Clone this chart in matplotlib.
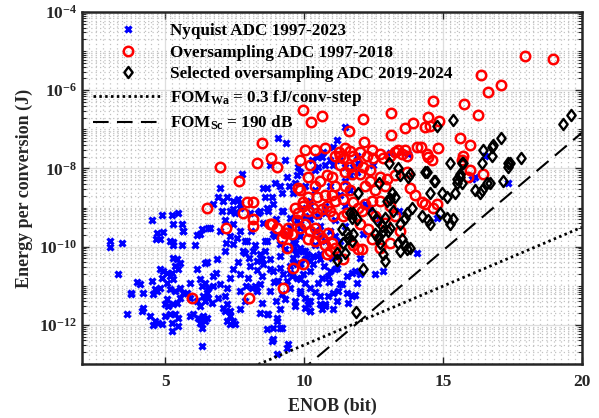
import numpy as np
import matplotlib
matplotlib.use("Agg")
import matplotlib.pyplot as plt
from matplotlib.path import Path
from matplotlib.ticker import FixedLocator, MultipleLocator, LogFormatterSciNotation, NullFormatter

plt.rcParams['font.family'] = ['Liberation Serif', 'DejaVu Serif']
plt.rcParams['font.weight'] = 'bold'
plt.rcParams['mathtext.fontset'] = 'custom'
plt.rcParams['mathtext.rm'] = 'Liberation Serif:bold'
plt.rcParams['mathtext.bf'] = 'Liberation Serif:bold'
plt.rcParams['mathtext.it'] = 'Liberation Serif:bold'
plt.rcParams['mathtext.default'] = 'regular'

# ---------------- data: (ENOB [bit], log10 of energy per conversion [J]) ----------------
nyquist_points = [
    (3.0,-9.85),(3.0,-10.02),(3.44,-9.9),(3.3,-10.7),(3.76,-11.2),(3.62,-11.72),(3.98,-10.9),(4.2,-11.58),(3.77,-11.18),
    (4.52,-9.31),(4.88,-9.2),(5.24,-9.2),(5.46,-9.13),(5.28,-9.41),(5.6,-9.41),(5.65,-9.6),
    (4.70,-9.64),(4.92,-9.62),(4.67,-9.8),(4.81,-9.8),(5.17,-9.85),(5.28,-9.87),(5.28,-9.97),(5.64,-9.59),(5.6,-9.97),
    (6.07,-9.97),(6.14,-9.69),(6.32,-9.54),(6.54,-9.51),(6.25,-9.67),(6.61,-9.51),
    (5.28,-10.28),(5.42,-10.31),(5.53,-10.41),(5.35,-10.49),(5.46,-10.56),(5.17,-10.74),(5.28,-10.82),(5.06,-10.92),
    (4.81,-10.56),(4.92,-10.62),(4.88,-10.79),(5.06,-10.67),(5.24,-10.67),
    (4.52,-10.87),(4.09,-10.95),(4.2,-11.18),(4.63,-11.08),(4.7,-11.13),(4.81,-11.05),(4.56,-11.2),
    (5.17,-11.08),(5.35,-11.13),(5.53,-11.05),(5.64,-11.18),(5.53,-11.31),(5.42,-11.44),(5.28,-11.46),(5.06,-11.33),(5.1,-11.51),(4.99,-11.46),
    (5.89,-10.92),(6.25,-10.82),(6.32,-11.0),(6.43,-10.92),(6.54,-11.05),(6.5,-11.18),(6.36,-11.26),(6.14,-11.38),(6.25,-11.51),
    (6.43,-11.38),(6.54,-11.31),(6.68,-11.44),(6.72,-11.0),
    (6.14,-10.56),(6.43,-10.41),(6.5,-10.38),(5.78,-11.18),(5.89,-11.31),
    (4.16,-11.64),(4.45,-11.77),(4.63,-11.9),(4.74,-11.95),(4.88,-11.97),(4.56,-12.0),
    (4.99,-11.77),(5.17,-11.72),(5.35,-11.72),(5.46,-11.82),(5.24,-11.95),(5.46,-12.03),(5.24,-12.15),
    (5.89,-11.77),(6.0,-11.72),(6.18,-11.82),(6.25,-11.85),(6.36,-11.77),(6.43,-11.9),(6.5,-11.82),(6.25,-11.95),(6.32,-12.08),(6.32,-12.54),
    (6.86,-10.31),(6.72,-10.74),(6.97,-10.95),(7.22,-11.05),(7.33,-10.79),(7.69,-10.69),(7.98,-10.79),
    (7.22,-11.46),(7.33,-11.64),(7.08,-11.56),(7.44,-11.9),(7.51,-11.97),(7.33,-11.97),
    (8.13,-11.05),(8.31,-11.13),(8.41,-10.95),
    (8.67,-11.72),(9.03,-11.82),(8.88,-12.08),(8.67,-12.1),(9.03,-11.9),(9.21,-12.08),(8.85,-12.41),(9.03,-12.74),(9.39,-12.59),
    (7.44,-9.41),(7.69,-9.59),(7.59,-9.77),(7.95,-9.85),(7.44,-9.92),(7.8,-10.1),
    (8.16,-10.1),(8.41,-10.18),(8.31,-10.36),(8.52,-10.44),(8.77,-10.31),(8.88,-10.62),(9.14,-10.54),(9.24,-10.69),
    (9.03,-10.87),(9.39,-10.87),(9.5,-11.05),(9.6,-10.28),(9.75,-10.44),
    (7.69,-8.9),(7.44,-9.03),(8.05,-9.15),(8.41,-9.08),(8.67,-9.0),(8.88,-8.9),(9.24,-9.08),(9.5,-9.26),(9.75,-9.33),
    (9.86,-9.51),(9.39,-9.67),(8.88,-9.67),(8.67,-9.85),(9.14,-9.92),(9.6,-9.85),(9.86,-10.03),
    (7.05,-9.08),(7.33,-9.08),(7.15,-9.33),(7.51,-9.15),(8.34,-9.15),(8.7,-9.08),(9.21,-9.08),(9.93,-9.0),(10.22,-8.95),
    (10.5,-9.21),(10.76,-9.13),(11.12,-9.33),(10.58,-9.46),(9.86,-9.41),(9.5,-9.49),
    (7.33,-9.72),(7.87,-9.85),(8.23,-9.97),(8.59,-9.85),(8.95,-9.72),(9.32,-10.05),(9.68,-9.9),(10.04,-10.1),(10.4,-9.97),
    (10.76,-9.85),(11.12,-9.72),(11.23,-10.23),(10.58,-10.31),(9.86,-10.41),(9.14,-10.23),(8.49,-10.31),(7.87,-10.15),(7.15,-10.1),
    (6.83,-10.67),(7.44,-10.56),(8.05,-10.49),(8.49,-10.74),(8.77,-10.56),(9.06,-10.87),(9.5,-10.67),(9.86,-10.82),(10.22,-10.62),
    (10.5,-10.92),(10.86,-10.74),(11.12,-10.56),(11.23,-11.13),(10.58,-11.26),(9.86,-11.18),(9.32,-11.33),(8.77,-11.13),(8.23,-11.0),
    (7.69,-11.13),(7.15,-11.26),(7.87,-11.38),(8.49,-11.44),(9.14,-11.59),(9.68,-11.51),(10.22,-11.38),(10.76,-11.51),
    (6.9,-11.31),(7.15,-11.64),(7.33,-11.77),(7.22,-11.9),
    (7.69,-11.59),(8.7,-11.72),(9.14,-12.08),(8.88,-12.36),(9.42,-12.49),
    (9.68,-11.38),(10.14,-11.46),(10.22,-11.64),(10.65,-11.59),(10.76,-11.46),(11.05,-11.18),(11.19,-11.38),
    (9.6,-10.05),(9.78,-10.1),(9.96,-10.1),(10.11,-10.18),(9.6,-10.41),(9.86,-10.44),(10.04,-10.31),(10.22,-10.36),(10.32,-10.23),
    (10.47,-10.23),(10.58,-10.18),(9.57,-10.74),(9.75,-10.79),(9.96,-10.69),(10.04,-10.92),(10.22,-11.05),(9.86,-11.13),(10.04,-11.31),
    (10.14,-11.38),(10.04,-11.56),(10.22,-11.64),(10.58,-11.46),(11.05,-11.59),(10.65,-10.79),(10.94,-10.62),(11.19,-10.54),(11.3,-10.95),
    (11.55,-10.74),(11.73,-10.67),(11.84,-10.62),(12.02,-10.69),(11.91,-10.92),(11.55,-11.18),(11.73,-11.26),(11.84,-11.23),
    (11.37,-10.95),(11.59,-11.44),(12.56,-10.69),(12.85,-10.62),(12.02,-10.28),(14.07,-10.15),
    (9.75,-8.18),(9.78,-7.97),(9.86,-8.1),(9.68,-8.38),(10.29,-7.79),(10.47,-7.72),(10.65,-7.72),(10.68,-7.59),(10.76,-7.92),
    (10.5,-7.97),(10.4,-8.05),(11.05,-7.46),(11.19,-7.28),(9.06,-7.23),(9.35,-7.36),(9.32,-7.79),(9.21,-8.62),(9.46,-8.46),
    (8.67,-8.49),(8.59,-8.74),(8.85,-8.74),(7.77,-8.13),(6.97,-8.51),(7.22,-8.74),(6.9,-8.74),(7.62,-8.77),(8.77,-7.92),
    (8.52,-8.51),(8.95,-8.36),(9.14,-8.44),(9.39,-8.23),(9.6,-8.62),(7.08,-8.82),(7.44,-8.82),(6.72,-8.9),(7.69,-9.0),
    (10.04,-8.44),(10.4,-8.56),(10.94,-8.44),(11.3,-8.69),(10.22,-8.82),(10.76,-8.95),(11.48,-8.95),(10.04,-9.21),(10.4,-9.59),
    (10.94,-9.59),(11.3,-9.85),(9.86,-9.72),(11.48,-8.31),(11.66,-8.56),(11.48,-9.46),
    (10.94,-7.79),(11.05,-7.92),(11.3,-7.79),(11.48,-7.97),(11.66,-8.18),(11.91,-8.1),
    (11.48,-6.95),(11.91,-7.69),(11.95,-7.85),(11.77,-7.97),(12.49,-7.92),(13.75,-7.62),(13.1,-7.6),(12.13,-9.67),(12.2,-8.9),
    (12.38,-9.0),(14.79,-9.26),(16.52,-7.69),(16.16,-8.23),(16.05,-8.26),(17.32,-8.38),(13.4,-9.1),(12.7,-9.3),
    (8.0,-10.3),(8.3,-10.6),(8.6,-10.1),(8.9,-10.9),(9.2,-11.2),(9.5,-10.5),(9.7,-10.2),(10.3,-10.45),(10.7,-10.5),
    (10.9,-10.9),(10.4,-11.15),(9.0,-11.4),(8.4,-11.7),(7.9,-11.0),(7.6,-10.4),(8.1,-9.6),(8.5,-9.4),(9.0,-9.3),
    (7.2,-9.9),(6.95,-9.6),(10.6,-9.7),(10.2,-9.3),(11.0,-10.3),(10.85,-11.25),
]

oversampling_points = [
    (6.97,-7.97),(7.66,-8.31),(8.49,-7.36),(8.81,-7.74),(8.31,-7.85),(9.03,-7.97),(6.5,-9.0),(7.19,-9.51),(7.95,-8.87),(8.16,-8.87),
    (8.16,-9.28),(8.16,-9.46),(8.77,-9.41),(9.03,-9.51),(9.39,-9.64),(9.57,-9.67),(9.39,-10.03),(9.6,-10.54),(9.24,-11.05),(5.96,-11.31),
    (8.02,-11.31),(9.68,-9.0),(9.78,-8.51),(9.96,-6.51),(10.25,-6.82),(10.65,-6.67),(10.14,-8.23),(10.83,-8.18),(11.01,-8.23),
    (10.14,-8.74),(10.47,-8.74),(10.76,-8.69),(11.01,-8.69),(11.12,-8.82),(9.96,-8.87),
    (11.62,-7.05),(12.13,-6.74),(13.14,-6.59),(13.14,-7.15),(13.64,-6.97),(13.93,-6.85),(14.36,-6.95),(14.54,-6.92),(14.47,-6.69),
    (14.65,-6.28),(14.86,-6.79),(15.77,-6.36),(16.27,-6.64),(16.38,-5.62),(16.63,-6.05),(17.1,-5.87),(17.96,-5.13),(18.94,-5.21),
    (11.26,-7.59),(11.66,-7.56),(12.16,-7.33),(14.07,-7.44),(14.22,-7.44),(14.43,-7.62),(14.83,-7.49),(14.61,-7.79),(15.62,-7.23),
    (15.98,-7.41),(15.73,-7.67),(15.69,-7.79),(15.98,-8.05),(16.45,-8.13),(15.91,-8.23),
    (11.48,-7.49),(11.3,-7.67),(11.41,-7.74),(11.77,-7.67),(12.02,-7.59),(12.27,-7.67),(12.45,-7.54),(12.49,-7.74),(12.74,-7.62),
    (12.85,-7.74),(13.1,-7.67),(13.28,-7.59),(13.39,-7.54),(13.53,-7.62),(13.71,-7.67),(13.64,-7.54),(14.47,-7.72),(11.91,-7.87),
    (12.13,-7.97),(12.38,-8.05),(11.66,-7.97),
    (11.48,-8.1),(11.73,-8.13),(12.02,-8.13),(12.38,-8.31),(12.74,-8.23),(12.99,-8.26),(13.28,-8.18),(13.71,-8.1),(13.82,-8.51),
    (14.0,-8.69),(14.25,-8.87),(14.36,-8.9),
    (11.41,-8.77),(11.66,-8.56),(11.77,-8.87),(11.95,-9.0),(12.09,-9.08),(12.2,-8.9),(12.45,-8.82),(11.55,-9.15),(11.41,-9.21),
    (11.77,-9.97),(11.95,-10.05),(12.09,-10.05),(11.41,-10.31),
    (7.8,-9.15),(8.85,-9.41),(9.32,-9.64),(9.96,-10.44),
    (9.78,-9.13),(9.96,-8.95),(10.14,-9.08),(10.32,-9.0),(10.47,-9.15),(10.65,-9.03),(10.83,-8.95),(10.94,-9.08),(11.05,-9.21),
    (9.75,-9.33),(9.86,-9.51),(10.04,-9.41),(10.22,-9.59),(10.4,-9.51),(10.5,-9.67),(10.14,-9.8),(10.4,-9.85),(10.65,-9.77),
    (10.86,-9.64),(11.01,-9.9),(10.76,-9.97),(10.94,-10.1),(11.12,-10.03),(10.83,-10.18),
    (9.42,-9.51),(9.21,-9.77),
    (10.04,-7.54),(10.4,-7.54),(10.76,-7.49),(11.12,-7.67),(9.86,-7.79),(10.22,-7.92),(11.3,-7.92),(10.58,-8.31),(11.12,-8.44),
    (11.48,-8.44),(9.86,-8.56),(10.4,-8.44),
    (12.2,-8.44),(12.56,-8.56),(12.92,-8.44),(12.74,-8.82),(13.1,-8.95),(12.56,-9.21),(12.92,-9.39),(13.28,-9.21),(13.46,-9.59),
    (12.31,-9.54),(12.02,-9.41),(12.45,-9.8),(13.1,-9.9),(12.74,-10.03),
    (14.79,-8.9),(14.65,-9.0),
]

selected_points = [
    (14.79,-6.92),(15.37,-6.77),(13.06,-7.87),(13.39,-8.0),(12.7,-8.38),(11.95,-8.64),(14.43,-8.1),(14.68,-8.31),(15.23,-7.85),
    (15.73,-7.87),(15.51,-8.26),(16.41,-7.87),(16.45,-7.54),(16.77,-7.46),(16.81,-7.41),(17.1,-7.23),(17.32,-7.87),(17.42,-7.85),
    (17.35,-7.97),(17.82,-7.74),(17.17,-8.31),(16.7,-8.36),(16.59,-8.38),(16.41,-8.56),(16.34,-8.64),(16.16,-8.56),(19.3,-6.87),
    (19.59,-6.64),(16.77,-7.67),(15.69,-7.85),(15.62,-8.13),(15.69,-8.36),
    (13.17,-8.64),(13.28,-8.74),(13.46,-8.18),(13.75,-8.23),(13.82,-8.13),(14.36,-8.1),(14.72,-8.31),(14.54,-8.62),(14.97,-8.64),
    (15.15,-8.74),(15.44,-8.62),(15.51,-8.36),(15.62,-8.23),
    (14.25,-9.21),(14.47,-9.33),(14.54,-9.41),(14.9,-9.13),(15.15,-9.26),(15.37,-9.28),(15.26,-9.41),(13.89,-9.0),(13.71,-9.13),
    (13.64,-9.26),(13.46,-9.41),(13.21,-9.08),(13.1,-8.77),(12.99,-8.82),
    (12.45,-9.15),(12.63,-9.33),(12.81,-9.46),(12.85,-9.59),(12.56,-9.67),(12.67,-9.77),(12.74,-9.9),(12.92,-9.26),(13.1,-9.51),
    (13.03,-9.59),(13.39,-9.9),(13.53,-9.8),(13.64,-9.97),(13.71,-10.05),(13.46,-10.1),(13.82,-10.03),(12.85,-10.18),(12.92,-10.36),
    (12.13,-10.56),(11.88,-11.66),
    (11.37,-9.54),(11.55,-9.64),(11.59,-9.77),(11.77,-9.67),(11.73,-9.85),(11.41,-9.9),(11.48,-10.15),(11.66,-9.13),(11.77,-9.15),
    (11.91,-9.28),(11.73,-9.26),(11.19,-10.15),(11.19,-10.35),
]

fom_walden_j = 0.3e-15      # J/conv-step
fom_schreier_db = 190.0     # dB

xticks = [5, 10, 15, 20]
yticks = [1e-12, 1e-10, 1e-8, 1e-6, 1e-4]

legend_labels = ['Nyquist ADC 1997-2023', 'Oversampling ADC 1997-2018',
                 'Selected oversampling ADC 2019-2024',
                 r'FOM$_{\rm Wa}$ = 0.3 fJ/conv-step', r'FOM$_{\rm Sc}$ = 190 dB']

# MATLAB-like diamond (taller than wide)
diamond = Path([(0, 1), (0.75, 0), (0, -1), (-0.75, 0), (0, 1)],
               [Path.MOVETO, Path.LINETO, Path.LINETO, Path.LINETO, Path.CLOSEPOLY])

# ---------------- plot ----------------
fig = plt.figure(figsize=(5.99, 4.18), dpi=100)
ax = fig.add_axes([82/599, 1-364/418, 500/599, 352/418])

nx, ny = zip(*nyquist_points)
ox, oy = zip(*oversampling_points)
sx, sy = zip(*selected_points)

h1, = ax.plot(nx, 10.0**np.array(ny), 'x', color='#0000ff', ms=5.0, mew=2.3, ls='none')
h2, = ax.plot(ox, 10.0**np.array(oy), 'o', mfc='none', mec='#ff0000', ms=6.8, mew=1.8, ls='none')
h3, = ax.plot(sx, 10.0**np.array(sy), marker=diamond, mfc='none', mec='black', ms=8.0, mew=1.7, ls='none')

enob = np.linspace(2, 20, 400)
e_walden = fom_walden_j * 2.0**enob
sndr = 6.02 * enob + 1.76
e_schreier = 1.0 / (2.0 * 10.0**((fom_schreier_db - sndr) / 10.0))
h4, = ax.plot(enob, e_walden, color='black', lw=2.0, ls=(0, (0.9, 1.2)))
h5, = ax.plot(enob, e_schreier, color='black', lw=1.5, ls=(0, (7.5, 4.0)))

ax.set_xscale('linear')
ax.set_yscale('log')
ax.set_xlim(2, 20)
ax.set_ylim(1e-13, 1e-4)
ax.xaxis.set_major_locator(FixedLocator(xticks))
ax.xaxis.set_minor_locator(MultipleLocator(0.25))
ax.yaxis.set_major_locator(FixedLocator(yticks))
minors = [k * 10.0**e for e in range(-13, -4) for k in range(1, 10)
          if not (k == 1 and (e % 2 == 0))]
ax.yaxis.set_minor_locator(FixedLocator([m for m in minors if 1e-13 <= m <= 1e-4]))
ax.yaxis.set_major_formatter(LogFormatterSciNotation())
ax.yaxis.set_minor_formatter(NullFormatter())

ax.set_axisbelow(True)
ax.grid(which='major', color='#dedede', lw=0.9, ls='-')
ax.grid(which='minor', color='#c2c2c2', lw=0.9, ls=(0, (1, 2.5)))

for s in ax.spines.values():
    s.set_linewidth(1.8)
    s.set_color('#262626')
ax.tick_params(which='both', direction='in', top=True, right=True, colors='#262626',
               labelsize=12.5, labelcolor='#262626')
ax.tick_params(which='major', length=5, width=1.0)
ax.tick_params(axis='y', which='minor', length=3, width=0.8)
ax.tick_params(axis='x', which='minor', length=0)
ax.tick_params(axis='x', which='major', pad=7)

ax.set_xlabel('ENOB (bit)', fontsize=13, fontweight='bold', color='#262626', labelpad=6)
ax.set_ylabel('Energy per conversion (J)', fontsize=13, fontweight='bold', color='#262626', labelpad=4)

leg = ax.legend([h1, h2, h3, h4, h5], legend_labels, loc='upper left', bbox_to_anchor=(0.0, 1.0),
                frameon=False, fontsize=12.3, handlelength=4.1, handletextpad=0.4,
                borderaxespad=0.25, labelspacing=0.33, numpoints=1)
for t in leg.get_texts():
    t.set_fontweight('bold')

fig.savefig('out.png', dpi=100)
